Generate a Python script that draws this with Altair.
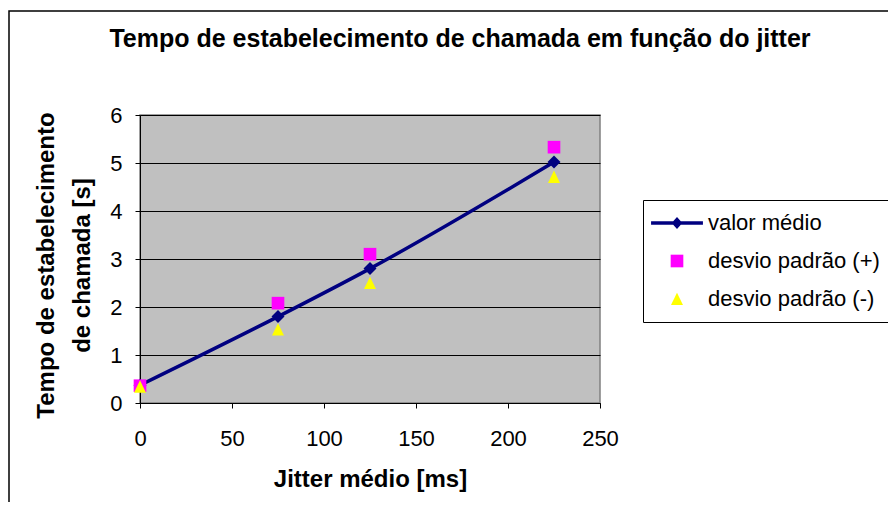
import altair as alt
import pandas as pd

# ---- data ----
jitter = [0, 75, 125, 225]
valor_medio = [0.37, 1.80, 2.80, 5.02]
desvio_mais = [0.36, 2.08, 3.10, 5.33]
desvio_menos = [0.34, 1.53, 2.50, 4.71]

series = ["valor médio", "desvio padrão (+)", "desvio padrão (-)"]
colors = ["#000080", "#FF00FF", "#FFFF00"]
x_ticks = [0, 50, 100, 150, 200, 250]
y_ticks = [0, 1, 2, 3, 4, 5, 6]

chart_title = "Tempo de estabelecimento de chamada em função do jitter"
x_title = "Jitter médio [ms]"
y_title = ["Tempo de estabelecimento", "de chamada [s]"]

FONT = "Liberation Sans"

mean_df = pd.DataFrame({"jitter": jitter, "tempo": valor_medio, "serie": series[0]})
dev_df = pd.concat([
    pd.DataFrame({"jitter": jitter, "tempo": desvio_mais, "serie": series[1]}),
    pd.DataFrame({"jitter": jitter, "tempo": desvio_menos, "serie": series[2]}),
], ignore_index=True)

x_enc = alt.X(
    "jitter:Q",
    scale=alt.Scale(domain=[0, 250], nice=False),
    axis=alt.Axis(values=x_ticks, title=x_title, grid=False, labelPadding=20,
                  labelFlush=False, labelOverlap=False,
                  titleY=83, titleBaseline="alphabetic"),
)
y_enc = alt.Y(
    "tempo:Q",
    scale=alt.Scale(domain=[0, 6], nice=False),
    axis=alt.Axis(values=y_ticks, title=y_title, grid=True, labelPadding=13,
                  labelFlush=False, labelOverlap=False,
                  titleX=-87, titleY=150, titleAngle=270, titleAlign="center",
                  titleBaseline="alphabetic", titleLineHeight=36),
)

# legend symbol for the mean series: a line with a diamond (unit coords)
LINE_DIAMOND = ("M-4.1,-0.26L4.1,-0.26L4.1,0.26L-4.1,0.26Z "
                "M0,-0.95L0.85,0L0,0.95L-0.85,0Z")
TRIANGLE = "M0,-1L0.95,0.95L-0.95,0.95Z"

legend = alt.Legend(
    title=None, orient="none", legendX=503, legendY=85,
    fillColor="white", strokeColor="black",
    padding=12, rowPadding=16,
    labelFont=FONT, labelFontSize=22, labelColor="black", labelOffset=20,
    labelLimit=400,
    symbolOffset=11, symbolSize=160, symbolStrokeWidth=0,
)

border_data = alt.Data(values=[{"k": 1}])
frame_box = alt.Chart(border_data).mark_rect(
    fillOpacity=0, stroke="black", strokeWidth=1.5
).encode(
    x=alt.value(-131), x2=alt.value(760), y=alt.value(-104), y2=alt.value(395))

line = alt.Chart(mean_df).mark_line(
    color="#000080", strokeWidth=3.5, interpolate="monotone"
).encode(x=x_enc, y=y_enc)

diamonds = alt.Chart(mean_df).mark_point(
    shape="diamond", filled=True, color="#000080", size=170, opacity=1
).encode(x=x_enc, y=y_enc)

points = alt.Chart(dev_df).mark_point(filled=True, size=160, opacity=1).encode(
    x=x_enc, y=y_enc,
    color=alt.Color("serie:N", scale=alt.Scale(domain=series, range=colors), legend=legend),
    shape=alt.Shape("serie:N", scale=alt.Scale(domain=series, range=[LINE_DIAMOND, "square", TRIANGLE]),
                    legend=legend),
)

chart = alt.layer(frame_box, line, diamonds, points).properties(
    width=460, height=288,
    title=alt.TitleParams(chart_title, font=FONT, fontSize=25, fontWeight="bold", color="black",
                          anchor="middle", frame="group", dx=90, offset=0, dy=62,
                          baseline="alphabetic"),
    autosize=alt.AutoSizeParams(type="none"),
    padding={"left": 132, "top": 107, "right": 288, "bottom": 99},
    background="white",
).configure_view(
    fill="#C0C0C0", stroke="#808080", strokeWidth=1.5
).configure_axis(
    labelFont=FONT, labelFontSize=22, labelColor="black",
    titleFont=FONT, titleFontSize=24, titleFontWeight="bold", titleColor="black",
    domainColor="black", domainWidth=1, tickColor="black", tickSize=5, tickWidth=1,
    gridColor="black", gridWidth=1, gridOpacity=1,
)

chart.save("out.html", embed_options={"renderer": "svg", "actions": False})
